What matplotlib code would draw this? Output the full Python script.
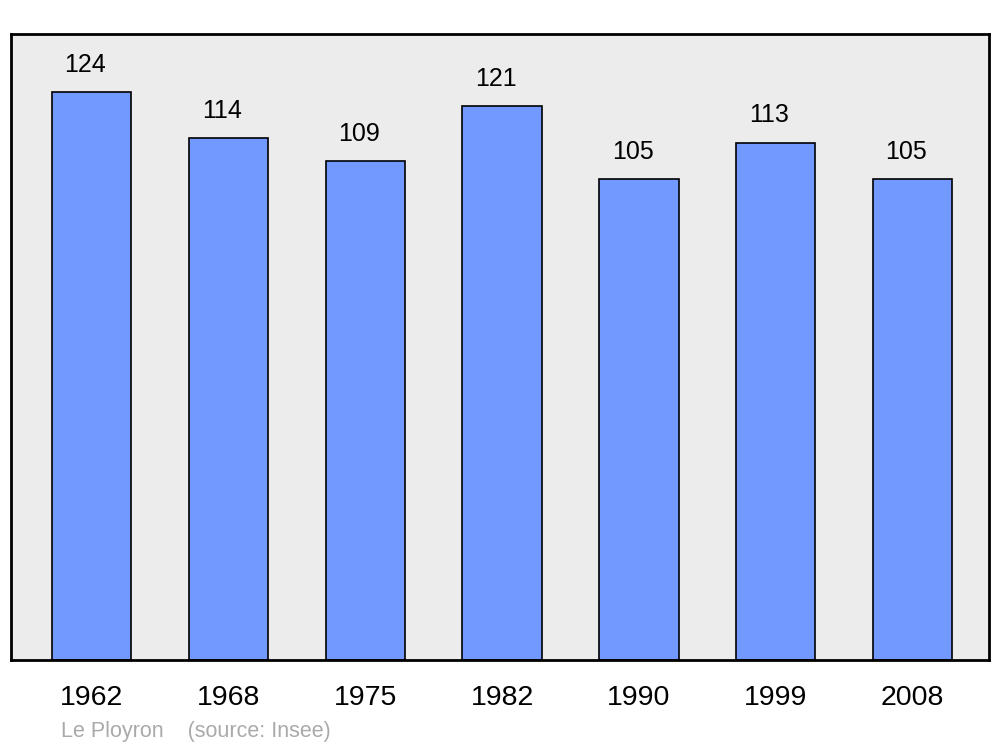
import matplotlib.pyplot as plt

years = ['1962', '1968', '1975', '1982', '1990', '1999', '2008']
population = [124, 114, 109, 121, 105, 113, 105]

plt.rcParams['font.family'] = ['Liberation Sans', 'DejaVu Sans']

fig = plt.figure(figsize=(10, 7.47), dpi=100)
ax = fig.add_axes([11 / 1000, 1 - 660 / 747, 978 / 1000, 626 / 747])
ax.set_facecolor('#ececec')

x = list(range(len(years)))
bars = ax.bar(x, population, width=0.58, color='#7299ff', edgecolor='black', linewidth=1.2, zorder=2)

# value labels sit a little left of the bar centre in the original
for xi, v in zip(x, population):
    ax.annotate(str(v), (xi, v), xytext=(-4.5, 19.5), textcoords='offset points',
                ha='center', va='center', fontsize=18)

ax.set_xlim(-0.59, 6.56)
ax.set_ylim(0, 136.7)
ax.set_yticks([])
ax.set_xticks(x)
ax.set_xticklabels(years, fontsize=20.5)
ax.tick_params(axis='x', length=0, pad=18)
for s in ax.spines.values():
    s.set_linewidth(2)

fig.text(0.061, 1 - 732 / 747, 'Le Ployron    (source: Insee)', fontsize=15.5,
         color='#aaaaaa', va='center', ha='left')

fig.savefig('out.png', dpi=100)
